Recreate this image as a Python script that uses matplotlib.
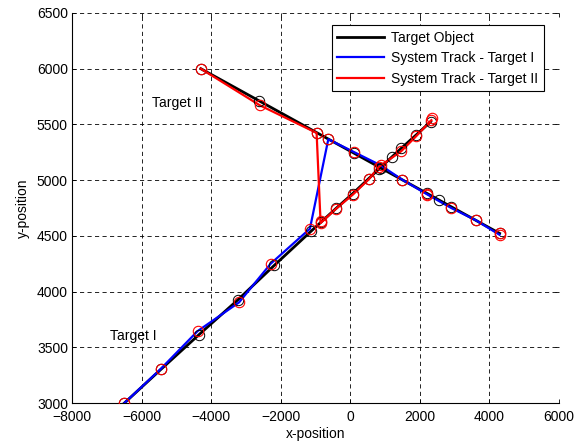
import matplotlib
matplotlib.use("Agg")
import matplotlib.pyplot as plt

plt.rcParams['font.family'] = ['Liberation Sans', 'DejaVu Sans']
plt.rcParams['font.size'] = 10

# ground truth, target I
truth1_x = [-6500, -5440, -4350, -3240, -2190, -1120, -850, -400, 70, 530, 820, 1200, 1460, 1890, 2310]
truth1_y = [3000, 3305, 3615, 3925, 4235, 4545, 4622, 4750, 4880, 5015, 5100, 5210, 5285, 5405, 5525]
# ground truth, target II
truth2_x = [-4300, -2625, -970, -634, 101, 867, 1489, 2207, 2560, 2904, 3613, 4290]
truth2_y = [6000, 5712, 5427, 5369, 5243, 5111, 5004, 4881, 4820, 4761, 4639, 4523]

# system track I (blue)
track1_x = [-6500, -5446, -4393, -3200, -2290, -1162, -634, 101, 867, 1489, 2207, 2904, 3613, 4290]
track1_y = [3000, 3309, 3646, 3904, 4251, 4565, 5367, 5253, 5134, 5005, 4873, 4750, 4640, 4510]
# system track II (red)
track2_x = [-4300, -2605, -970, -855, -405, 72, 531, 818, 1460, 1891, 2330]
track2_y = [6000, 5672, 5424, 4616, 4745, 4871, 5008, 5119, 5259, 5394, 5538]

# extra measurement circles
extra_x = [4310, 2335, 2200, -840]
extra_y = [4525, 5560, 4865, 4630]

fig, ax = plt.subplots(figsize=(5.86, 4.46), dpi=100)
fig.subplots_adjust(left=0.123, right=0.954, bottom=0.096, top=0.971)

ax.plot(truth1_x, truth1_y, color='black', lw=2, label='Target Object', zorder=3)
ax.plot(truth2_x, truth2_y, color='black', lw=2, zorder=3)
ax.plot(track1_x, track1_y, color='blue', lw=1.6, label='System Track - Target I', zorder=4)
ax.plot(track2_x, track2_y, color='red', lw=1.6, label='System Track - Target II', zorder=5)

ax.plot(truth1_x + truth2_x, truth1_y + truth2_y, 'o', mfc='none', mec='black',
        ms=7.5, mew=0.7, zorder=6)
ax.plot(track1_x + track2_x + extra_x, track1_y + track2_y + extra_y, 'o', mfc='none',
        mec='red', ms=7.5, mew=0.8, zorder=7)

ax.text(-5700, 5690, 'Target II', va='center')
ax.text(-6900, 3600, 'Target I', va='center')

ax.set_xlim(-8000, 6000)
ax.set_ylim(3000, 6500)
ax.set_xticks(range(-8000, 6001, 2000))
ax.set_yticks(range(3000, 6501, 500))
ax.set_xlabel('x-position', labelpad=2)
ax.set_ylabel('y-position', labelpad=5)

ax.grid(True, color='black', linestyle=(0, (5, 4)), linewidth=0.6)
ax.spines['top'].set_visible(False)
ax.spines['right'].set_visible(False)
ax.tick_params(direction='in', top=True, right=True, length=3, width=0.6)
ax.tick_params(axis='x', pad=5)
ax.tick_params(axis='y', pad=3)

leg = ax.legend(loc='upper right', bbox_to_anchor=(0.975, 0.975), fancybox=False,
                framealpha=1, edgecolor='black', handlelength=3.4, handletextpad=0.5,
                borderpad=0.4, labelspacing=0.45, borderaxespad=0.2)
leg.get_frame().set_linewidth(0.8)

fig.savefig('out.png', dpi=100)
